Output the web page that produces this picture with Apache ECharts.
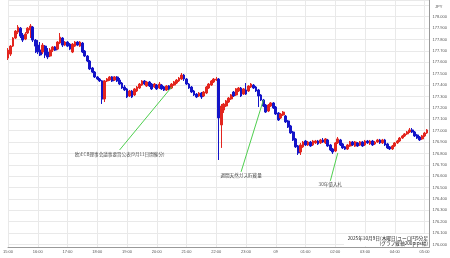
<!DOCTYPE html>
<html><head><meta charset="utf-8">
<script src="https://cdn.jsdelivr.net/npm/echarts@6/dist/echarts.min.js"></script>
<style>html,body{margin:0;padding:0;background:#fff}#c{width:450px;height:258px}</style>
</head><body><div id="c"></div>
<script>
// 5-minute candles, 15:00 .. 05:05 (one extra empty slot 05:10)
const startHour = 15, slotCount = 171;
const times = [];
for (let k = 0; k < slotCount; k++) {
  const m = startHour * 60 + k * 5;
  const h = Math.floor(m / 60) % 24, mm = m % 60;
  times.push(String(h).padStart(2, '0') + ':' + String(mm).padStart(2, '0'));
}
const opens = [177.637,177.672,177.742,177.813,177.865,177.900,177.839,177.804,177.857,177.883,
177.909,177.795,177.751,177.707,177.690,177.742,177.690,177.655,177.707,177.734,
177.716,177.769,177.813,177.751,177.778,177.760,177.690,177.742,177.778,177.742,
177.769,177.699,177.655,177.611,177.550,177.514,177.471,177.453,177.436,177.278,
177.436,177.444,177.471,177.444,177.471,177.444,177.418,177.383,177.366,177.304,
177.348,177.313,177.348,177.374,177.400,177.436,177.392,177.427,177.409,177.383,
177.400,177.374,177.400,177.383,177.357,177.392,177.374,177.400,177.418,177.436,
177.453,177.488,177.453,177.409,177.383,177.348,177.321,177.304,177.330,177.304,
177.330,177.374,177.400,177.427,177.444,177.453,177.050,177.181,177.216,177.251,
177.278,177.339,177.313,177.348,177.374,177.321,177.357,177.348,177.383,177.400,
177.383,177.357,177.313,177.269,177.225,177.172,177.216,177.243,177.207,177.155,
177.111,177.137,177.128,177.085,177.041,176.988,176.927,176.865,176.812,176.857,
176.909,176.874,176.900,176.874,176.892,176.909,176.892,176.918,176.892,176.918,
176.874,176.839,176.821,176.892,176.918,176.883,176.857,176.839,176.865,176.900,
176.865,176.892,176.874,176.900,176.874,176.909,176.883,176.909,176.883,176.900,
176.918,176.892,176.918,176.883,176.857,176.839,176.865,176.892,176.909,176.935,
176.953,176.971,176.988,177.006,176.988,176.962,176.944,176.927,176.953,176.979];
const closes = [177.707,177.742,177.813,177.874,177.909,177.830,177.795,177.848,177.900,177.918,
177.795,177.742,177.690,177.664,177.751,177.664,177.646,177.707,177.734,177.707,
177.778,177.821,177.751,177.778,177.742,177.716,177.760,177.778,177.751,177.778,
177.690,177.655,177.611,177.541,177.514,177.471,177.453,177.436,177.278,177.436,
177.453,177.471,177.436,177.471,177.436,177.409,177.374,177.357,177.295,177.348,
177.295,177.366,177.383,177.409,177.436,177.409,177.427,177.392,177.366,177.409,
177.366,177.409,177.366,177.357,177.392,177.366,177.409,177.427,177.444,177.462,
177.488,177.453,177.409,177.374,177.339,177.313,177.295,177.330,177.295,177.339,
177.383,177.409,177.436,177.453,177.453,177.111,177.216,177.234,177.260,177.286,
177.313,177.304,177.366,177.374,177.304,177.366,177.321,177.392,177.409,177.374,
177.348,177.304,177.269,177.216,177.163,177.225,177.243,177.199,177.146,177.093,
177.146,177.163,177.076,177.032,176.979,176.918,176.857,176.804,176.874,176.900,
176.874,176.900,176.865,176.909,176.909,176.883,176.918,176.900,176.927,176.865,
176.830,176.812,176.892,176.927,176.874,176.848,176.839,176.874,176.900,176.874,
176.900,176.865,176.900,176.865,176.909,176.892,176.909,176.874,176.900,176.918,
176.892,176.918,176.874,176.848,176.839,176.865,176.892,176.909,176.935,176.953,
176.971,176.988,177.006,176.988,176.953,176.935,176.918,176.953,176.979,177.006];
const lows = [177.620,177.655,177.734,177.804,177.848,177.813,177.778,177.795,177.848,177.813,
177.778,177.681,177.672,177.655,177.672,177.637,177.628,177.646,177.690,177.699,
177.707,177.760,177.734,177.742,177.734,177.707,177.681,177.734,177.742,177.734,
177.681,177.646,177.602,177.532,177.506,177.462,177.444,177.427,177.234,177.251,
177.427,177.436,177.427,177.436,177.427,177.400,177.366,177.348,177.286,177.295,
177.286,177.304,177.339,177.366,177.392,177.400,177.383,177.383,177.357,177.374,
177.357,177.366,177.357,177.348,177.348,177.357,177.366,177.392,177.409,177.427,
177.444,177.436,177.400,177.366,177.330,177.304,177.286,177.295,177.278,177.295,
177.321,177.366,177.392,177.418,177.436,176.742,176.848,177.155,177.207,177.243,
177.269,177.295,177.304,177.339,177.295,177.313,177.313,177.339,177.374,177.366,
177.339,177.207,177.260,177.207,177.155,177.163,177.207,177.190,177.137,177.085,
177.102,177.128,177.067,177.023,176.971,176.909,176.848,176.786,176.786,176.848,
176.865,176.865,176.857,176.865,176.883,176.874,176.883,176.892,176.883,176.857,
176.821,176.795,176.812,176.883,176.865,176.839,176.830,176.830,176.857,176.865,
176.857,176.857,176.865,176.857,176.865,176.883,176.874,176.865,176.874,176.892,
176.883,176.883,176.865,176.839,176.830,176.830,176.857,176.883,176.900,176.927,
176.944,176.962,176.979,176.979,176.944,176.927,176.909,176.918,176.944,176.971];
const highs = [177.725,177.751,177.821,177.883,177.927,177.909,177.857,177.865,177.909,177.936,
177.918,177.804,177.795,177.778,177.769,177.751,177.725,177.725,177.742,177.742,
177.786,177.857,177.821,177.786,177.786,177.769,177.769,177.786,177.786,177.786,
177.778,177.707,177.664,177.620,177.559,177.523,177.479,177.462,177.444,177.444,
177.462,177.479,177.479,177.479,177.479,177.462,177.427,177.400,177.374,177.357,
177.357,177.374,177.392,177.418,177.444,177.444,177.436,177.436,177.418,177.418,
177.409,177.427,177.409,177.392,177.400,177.400,177.418,177.436,177.453,177.471,
177.506,177.497,177.462,177.418,177.392,177.357,177.330,177.339,177.339,177.348,
177.392,177.418,177.444,177.462,177.471,177.462,177.234,177.243,177.269,177.295,
177.321,177.348,177.374,177.383,177.383,177.374,177.418,177.400,177.418,177.409,
177.392,177.366,177.321,177.278,177.234,177.234,177.251,177.251,177.216,177.163,
177.155,177.172,177.137,177.093,177.050,176.997,176.935,176.874,176.892,176.909,
176.918,176.909,176.909,176.918,176.918,176.918,176.927,176.935,176.935,176.927,
176.883,176.848,176.900,176.944,176.927,176.892,176.865,176.883,176.909,176.909,
176.909,176.900,176.909,176.909,176.918,176.918,176.918,176.918,176.909,176.927,
176.927,176.927,176.927,176.892,176.865,176.874,176.900,176.918,176.944,176.962,
176.979,176.997,177.023,177.023,176.997,176.971,176.953,176.962,176.988,177.014];

const priceMin = 175.978, priceMax = 178.147, priceStep = 0.1;
const dayLabel = '09';
const annotations = [
  { text: '欧)ECB理事会議事要旨公表(9月11日開催分)', from: ['18:45', 176.830], to: ['20:30', 177.383] },
  { text: '週間天然ガス貯蔵量', from: ['22:50', 176.638], to: ['23:35', 177.269] },
  { text: '30年債入札', from: ['01:50', 176.559], to: ['02:05', 176.804] }
];
const captionLines = ['2025年10月9日(木曜日)ユーロ円5分足', '(グラフ縦軸200pips幅)'];
const unitLabel = 'JPY';

const candles = opens.map((o, i) => [o, closes[i], lows[i], highs[i]]);
const isHour = (idx, v) => v.endsWith(':00');
const fontNum = 'Liberation Sans, Arial, sans-serif';
const fontJp = 'Noto Sans CJK JP, sans-serif';

const series = [{
  type: 'candlestick',
  data: candles,
  barWidth: 2.3,
  itemStyle: { color: '#e3261f', color0: '#1414c8', borderColor: '#e3261f', borderColor0: '#1414c8', borderWidth: 1 },
  silent: true
}];
annotations.forEach(a => {
  series.push({
    type: 'line', data: [a.from, a.to], symbol: 'none', silent: true,
    lineStyle: { color: '#4fcf4f', width: 1 }, z: 5
  });
  series.push({
    type: 'scatter', data: [a.from], symbolSize: 1, silent: true,
    itemStyle: { color: 'rgba(0,0,0,0)' },
    label: { show: true, position: 'bottom', distance: 1, formatter: a.text,
      fontSize: 4.6, color: '#222', fontFamily: fontJp },
    z: 6
  });
});

const chart = echarts.init(document.getElementById('c'), null, { renderer: 'canvas' });
chart.setOption({
  animation: false,
  backgroundColor: '#fff',
  grid: { left: 0.77, right: 20, top: 0, bottom: 11, containLabel: false },
  xAxis: {
    type: 'category', data: times, boundaryGap: false,
    axisLine: { show: true, lineStyle: { color: '#999', width: 1 } },
    axisTick: { show: false },
    axisLabel: { interval: isHour, fontSize: 4, color: '#555', margin: 3, fontFamily: fontNum,
      formatter: v => v === '00:00' ? dayLabel : v },
    splitLine: { show: true, interval: isHour, lineStyle: { color: '#e9e9e9', width: 1 } }
  },
  yAxis: {
    type: 'value', position: 'right', scale: true,
    min: priceMin, max: priceMax, splitNumber: 20, minInterval: priceStep, maxInterval: priceStep,
    axisLine: { show: true, lineStyle: { color: '#999', width: 1 } },
    axisTick: { show: false },
    axisLabel: { fontSize: 4, color: '#555', margin: 3, fontFamily: fontNum,
      formatter: v => (Math.abs(v * 10 - Math.round(v * 10)) < 1e-6 && v >= 175.999 && v <= 178.05) ? v.toFixed(3) : '' },
    splitLine: { show: true, lineStyle: { color: '#e9e9e9', width: 1 } }
  },
  series: series,
  graphic: [
    { type: 'text', left: 435, top: 5, style: { text: unitLabel, fontSize: 4, fill: '#555', fontFamily: fontNum } },
    { type: 'rect', shape: { x: 344, y: 234, width: 85, height: 12 }, style: { fill: '#fff' }, z: 10 },
    { type: 'text', z: 11, style: { x: 428, y: 238.5, text: captionLines[0], align: 'right', verticalAlign: 'middle', fontSize: 4.7, fill: '#222', fontFamily: fontJp } },
    { type: 'text', z: 11, style: { x: 428, y: 243.5, text: captionLines[1], align: 'right', verticalAlign: 'middle', fontSize: 4.7, fill: '#222', fontFamily: fontJp } }
  ]
});
</script></body></html>
